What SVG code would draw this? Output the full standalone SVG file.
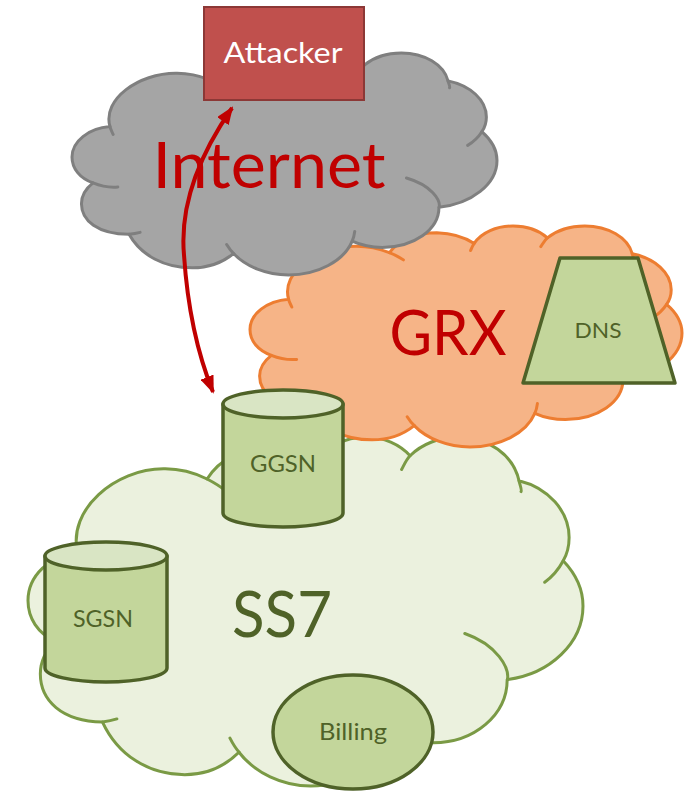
<svg xmlns="http://www.w3.org/2000/svg" width="687" height="791" viewBox="0 0 687 791">
<style>
.cl{stroke-width:3;stroke-linejoin:round}
.cr{fill:none;stroke-width:3;stroke-linecap:round}
.net{fill:#a5a5a5;stroke:#7f7f7f}
.grx{fill:#f6b487;stroke:#ed7d31}
.ss7{fill:#ebf1de;stroke:#7a9a45}
.crn{stroke:#7f7f7f}
.crg{stroke:#ed7d31}
.crs{stroke:#7a9a45}
.dev{fill:#c3d69b;stroke:#4f6228;stroke-width:3.5;stroke-linejoin:round}
.top{fill:#d9e5c4;stroke:#4f6228;stroke-width:3.5}
.t{font-family:Lato,"Liberation Sans",sans-serif;text-anchor:middle}
.big{fill:#c00000}
.g{fill:#4f6228}
.arr{fill:none;stroke:#c00000;stroke-width:4}
</style>
<defs>
<marker id="ah" viewBox="0 0 18 14" refX="16" refY="7" markerWidth="18" markerHeight="14" markerUnits="userSpaceOnUse" orient="auto-start-reverse">
<path d="M0,0 L18,7 L0,14 Z" fill="#c00000"/>
</marker>
</defs>

<g id="ss7">
<g transform="translate(28,437) scale(0.025694,0.016157)">
<path vector-effect="non-scaling-stroke" class="cl ss7" d="M1930,7160 C1530,4490 3400,1970 5270,1970 C5860,1950 6470,2210 6970,2600 C7450,1390 8340,650 9340,650 C10004,690 10710,1050 11210,1700 C11570,630 12330,0 13150,0 C13840,0 14470,460 14870,1160 C15330,440 16020,0 16740,0 C17910,0 18900,1130 19110,2710 C20240,3150 21060,4580 21060,6220 C21060,6720 21000,7200 20830,7660 C21310,8460 21600,9450 21600,10460 C21600,12750 20310,14680 18650,15010 C18650,17200 17370,18920 15770,18920 C15220,18920 14700,18710 14240,18310 C13820,20240 12490,21600 11000,21600 C9890,21600 8840,20790 8210,19510 C7650,20400 6950,20900 6100,20900 C4700,20900 3500,19700 2900,17640 C1300,17600 480,16300 480,14660 C480,13900 690,13210 1070,12640 C380,12160 0,11210 0,10120 C0,8590 840,7330 1930,7160 Z"/>
<path vector-effect="non-scaling-stroke" class="cr crs" d="M1930,7160 C1950,7410 2040,7690 2090,7920 M6970,2600 C7200,2790 7480,3050 7670,3310 M11210,1700 C11130,1910 11080,2160 11030,2400 M14870,1160 C14720,1400 14640,1720 14540,2010 M19110,2710 C19130,2890 19230,3290 19190,3380 M20830,7660 C20660,8170 20430,8620 20110,8990 M18660,15010 C18740,14330 18280,12870 17000,12160 M14240,18310 C14320,17980 14350,17680 14370,17360 M8220,19510 C8060,19250 7960,18950 7860,18640 M2900,17640 C3090,17600 3280,17540 3460,17450 M1070,12640 C1400,12900 1780,13130 2330,13040"/>
</g>
<text class="t g" x="282" y="637" font-size="63" textLength="100" lengthAdjust="spacingAndGlyphs">SS7</text>
</g>

<g id="grx">
<g transform="translate(250,226) scale(0.02,0.010231)">
<path vector-effect="non-scaling-stroke" class="cl grx" d="M1930,7160 C1530,4490 3400,1970 5270,1970 C5860,1950 6470,2210 6970,2600 C7450,1390 8340,650 9340,650 C10004,690 10710,1050 11210,1700 C11570,630 12330,0 13150,0 C13840,0 14470,460 14870,1160 C15330,440 16020,0 16740,0 C17910,0 18900,1130 19110,2710 C20240,3150 21060,4580 21060,6220 C21060,6720 21000,7200 20830,7660 C21310,8460 21600,9450 21600,10460 C21600,12750 20310,14680 18650,15010 C18650,17200 17370,18920 15770,18920 C15220,18920 14700,18710 14240,18310 C13820,20240 12490,21600 11000,21600 C9890,21600 8840,20790 8210,19510 C7650,20400 6950,20900 6100,20900 C4700,20900 3500,19700 2900,17640 C1300,17600 480,16300 480,14660 C480,13900 690,13210 1070,12640 C380,12160 0,11210 0,10120 C0,8590 840,7330 1930,7160 Z"/>
<path vector-effect="non-scaling-stroke" class="cr crg" d="M1930,7160 C1950,7410 2040,7690 2090,7920 M6970,2600 C7200,2790 7480,3050 7670,3310 M11210,1700 C11130,1910 11080,2160 11030,2400 M14870,1160 C14720,1400 14640,1720 14540,2010 M19110,2710 C19130,2890 19230,3290 19190,3380 M20830,7660 C20660,8170 20430,8620 20110,8990 M18660,15010 C18740,14330 18280,12870 17000,12160 M14240,18310 C14320,17980 14350,17680 14370,17360 M8220,19510 C8060,19250 7960,18950 7860,18640 M2900,17640 C3090,17600 3280,17540 3460,17450 M1070,12640 C1400,12900 1780,13130 2330,13040"/>
</g>
<text class="t big" x="448" y="355" font-size="61" textLength="117" lengthAdjust="spacingAndGlyphs">GRX</text>
</g>

<g id="internet">
<g transform="translate(72,53) scale(0.019676,0.010278)">
<path vector-effect="non-scaling-stroke" class="cl net" d="M1930,7160 C1530,4490 3400,1970 5270,1970 C5860,1950 6470,2210 6970,2600 C7450,1390 8340,650 9340,650 C10004,690 10710,1050 11210,1700 C11570,630 12330,0 13150,0 C13840,0 14470,460 14870,1160 C15330,440 16020,0 16740,0 C17910,0 18900,1130 19110,2710 C20240,3150 21060,4580 21060,6220 C21060,6720 21000,7200 20830,7660 C21310,8460 21600,9450 21600,10460 C21600,12750 20310,14680 18650,15010 C18650,17200 17370,18920 15770,18920 C15220,18920 14700,18710 14240,18310 C13820,20240 12490,21600 11000,21600 C9890,21600 8840,20790 8210,19510 C7650,20400 6950,20900 6100,20900 C4700,20900 3500,19700 2900,17640 C1300,17600 480,16300 480,14660 C480,13900 690,13210 1070,12640 C380,12160 0,11210 0,10120 C0,8590 840,7330 1930,7160 Z"/>
<path vector-effect="non-scaling-stroke" class="cr crn" d="M1930,7160 C1950,7410 2040,7690 2090,7920 M6970,2600 C7200,2790 7480,3050 7670,3310 M11210,1700 C11130,1910 11080,2160 11030,2400 M14870,1160 C14720,1400 14640,1720 14540,2010 M19110,2710 C19130,2890 19230,3290 19190,3380 M20830,7660 C20660,8170 20430,8620 20110,8990 M18660,15010 C18740,14330 18280,12870 17000,12160 M14240,18310 C14320,17980 14350,17680 14370,17360 M8220,19510 C8060,19250 7960,18950 7860,18640 M2900,17640 C3090,17600 3280,17540 3460,17450 M1070,12640 C1400,12900 1780,13130 2330,13040"/>
</g>
<text class="t big" x="269" y="188" font-size="63" textLength="233" lengthAdjust="spacingAndGlyphs">Internet</text>
</g>

<g id="attacker">
<rect x="204" y="7" width="160" height="93" fill="#c0504d" stroke="#8c3836" stroke-width="2"/>
<text class="t" x="283" y="63" font-size="29" fill="#ffffff" textLength="119" lengthAdjust="spacingAndGlyphs">Attacker</text>
</g>

<g id="dns">
<path class="dev" d="M560,258 L638,258 L675,383 L523,383 Z"/>
<text class="t g" x="598" y="338" font-size="22" textLength="47" lengthAdjust="spacingAndGlyphs">DNS</text>
</g>

<g id="ggsn">
<path class="dev" d="M223,404 L223,513 A60,14 0 0 0 343,513 L343,404 Z"/>
<ellipse class="top" cx="283" cy="404" rx="60" ry="14"/>
<text class="t g" x="283" y="472" font-size="23" textLength="66" lengthAdjust="spacingAndGlyphs">GGSN</text>
</g>

<g id="sgsn">
<path class="dev" d="M45,556 L45,668 A61,14 0 0 0 167,668 L167,556 Z"/>
<ellipse class="top" cx="106" cy="556" rx="61" ry="14"/>
<text class="t g" x="103" y="627" font-size="23" textLength="60" lengthAdjust="spacingAndGlyphs">SGSN</text>
</g>

<g id="billing">
<ellipse class="dev" cx="353" cy="732" rx="80" ry="57"/>
<text class="t g" x="353" y="740" font-size="23" textLength="68" lengthAdjust="spacingAndGlyphs">Billing</text>
</g>

<g id="connectors">
<path class="arr" d="M232,108 C196,160 180,210 184,255 C187,300 196,350 213,392" marker-start="url(#ah)" marker-end="url(#ah)"/>
</g>
</svg>
